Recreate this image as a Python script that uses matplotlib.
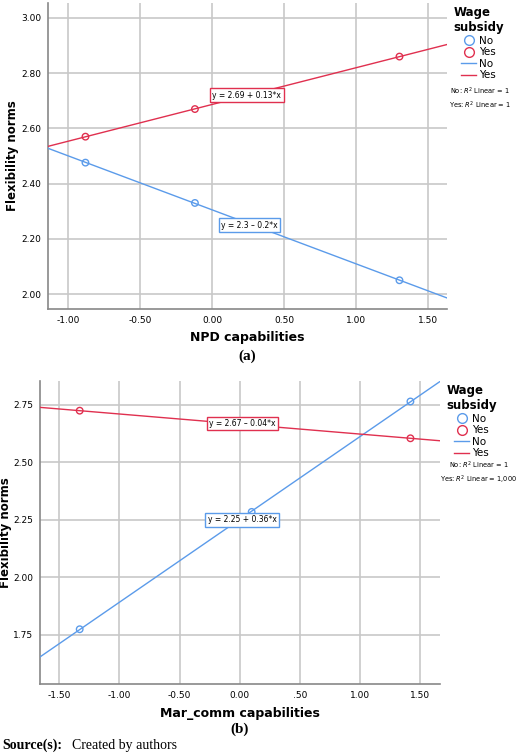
import numpy as np
import matplotlib.pyplot as plt
from matplotlib.lines import Line2D

# panel (a): NPD capabilities
a_no_x = [-0.88, -0.12, 1.30]
a_no_y = [2.476, 2.330, 2.050]
a_yes_x = [-0.88, -0.12, 1.30]
a_yes_y = [2.570, 2.670, 2.860]
a_xticks = [-1.0, -0.5, 0.0, 0.5, 1.0, 1.5]
a_xlabels = ["-1.00", "-0.50", "0.00", "0.50", "1.00", "1.50"]
a_yticks = [2.0, 2.2, 2.4, 2.6, 2.8, 3.0]
a_ylabels = ["2.00", "2.20", "2.40", "2.60", "2.80", "3.00"]

# panel (b): Mar_comm capabilities
b_no_x = [-1.33, 0.10, 1.42]
b_no_y = [1.775, 2.285, 2.765]
b_yes_x = [-1.33, 1.42]
b_yes_y = [2.725, 2.605]
b_xticks = [-1.5, -1.0, -0.5, 0.0, 0.5, 1.0, 1.5]
b_xlabels = ["-1.50", "-1.00", "-0.50", "0.00", ".50", "1.00", "1.50"]
b_yticks = [1.75, 2.0, 2.25, 2.5, 2.75]
b_ylabels = ["1.75", "2.00", "2.25", "2.50", "2.75"]

BLUE = "#5b9bea"
RED = "#e0304f"

fig = plt.figure(figsize=(5.2, 7.54), dpi=100)
W, H = 520, 754


def panel(rect, nx, ny, yx, yy, xlim, ylim, xt, xl, yt, yl, xlabel,
          eq_no, eq_yes, r2_text, r2_xy, tag, xlab_y, tag_y, ylab_x):
    l, t, r, b = rect
    ax = fig.add_axes([l / W, 1 - b / H, (r - l) / W, (b - t) / H])
    ax.set_xlim(xlim)
    ax.set_ylim(ylim)
    xs = np.array(xlim)
    for x, y, c, eq in [(nx, ny, BLUE, eq_no), (yx, yy, RED, eq_yes)]:
        k, c0 = np.polyfit(x, y, 1)
        ax.plot(xs, c0 + k * xs, color=c, lw=1, zorder=3)
        ax.scatter(x, y, s=22, facecolors="none", edgecolors=c, lw=1, zorder=4)
        ex, ey, txt = eq
        ax.text(ex, ey, txt, fontsize=5.5, ha="center", va="center", zorder=5,
                bbox=dict(boxstyle="square,pad=0.3", fc="white", ec=c, lw=1))
    ax.set_xticks(xt, xl, fontsize=6.5)
    ax.set_yticks(yt, yl, fontsize=6.5)
    ax.grid(True, color="#c8c8c8", lw=1.2)
    ax.set_axisbelow(True)
    for s in ["top", "right"]:
        ax.spines[s].set_visible(False)
    for s in ["left", "bottom"]:
        ax.spines[s].set_color("#888888")
        ax.spines[s].set_linewidth(1.2)
    ax.tick_params(length=0, pad=5)
    fig.text(0.5 * (l + r) / W, 1 - xlab_y / H, xlabel, fontsize=9,
             fontweight="bold", ha="center", va="center")
    fig.text(ylab_x / W, 1 - (0.5 * (t + b)) / H, "Flexibility norms",
             fontsize=8.5, fontweight="bold", rotation=90, ha="center", va="center")
    handles = [
        Line2D([], [], marker="o", ls="", mfc="none", mec=BLUE, ms=7, label="No"),
        Line2D([], [], marker="o", ls="", mfc="none", mec=RED, ms=7, label="Yes"),
        Line2D([], [], color=BLUE, lw=1, label="No"),
        Line2D([], [], color=RED, lw=1, label="Yes"),
    ]
    leg = ax.legend(handles=handles, title="Wage\nsubsidy", loc="upper left",
                    bbox_to_anchor=(1.0, 1.01), frameon=False, fontsize=7.5,
                    handlelength=1.4, handletextpad=0.3, labelspacing=0.15,
                    borderaxespad=0.2)
    leg.get_title().set_fontweight("bold")
    leg.get_title().set_fontsize(8.5)
    fig.text(r2_xy[0] / W, 1 - r2_xy[1] / H, r2_text, fontsize=4.8,
             ha="center", va="center", linespacing=1.3)
    fig.text(0.5 * (l + r) / W, 1 - tag_y / H, tag, fontsize=11,
             fontweight="bold", family="Liberation Serif", ha="center", va="center")
    return ax


panel((48, 3, 447, 309), a_no_x, a_no_y, a_yes_x, a_yes_y,
      (-1.14, 1.63), (1.946, 3.054), a_xticks, a_xlabels, a_yticks, a_ylabels,
      "NPD capabilities",
      (0.26, 2.25, "y = 2.3 \u2013 0.2*x"), (0.24, 2.72, "y = 2.69 + 0.13*x"),
      "No: $R^2$ Linear = 1\nYes: $R^2$ Linear = 1", (480, 98), "(a)", 338, 356, 13)

panel((40, 381, 440, 684), b_no_x, b_no_y, b_yes_x, b_yes_y,
      (-1.66, 1.666), (1.537, 2.854), b_xticks, b_xlabels, b_yticks, b_ylabels,
      "Mar_comm capabilities",
      (0.02, 2.25, "y = 2.25 + 0.36*x"), (0.02, 2.67, "y = 2.67 \u2013 0.04*x"),
      "No: $R^2$ Linear = 1\nYes: $R^2$ Linear = 1,000", (479, 473), "(b)", 714, 729, 6)

fig.text(2 / W, 1 - 745 / H, "Source(s):", fontsize=10, fontweight="bold",
         family="Liberation Serif", va="center")
fig.text(72 / W, 1 - 745 / H, "Created by authors", fontsize=10,
         family="Liberation Serif", va="center")

fig.savefig("out.png", dpi=100)
